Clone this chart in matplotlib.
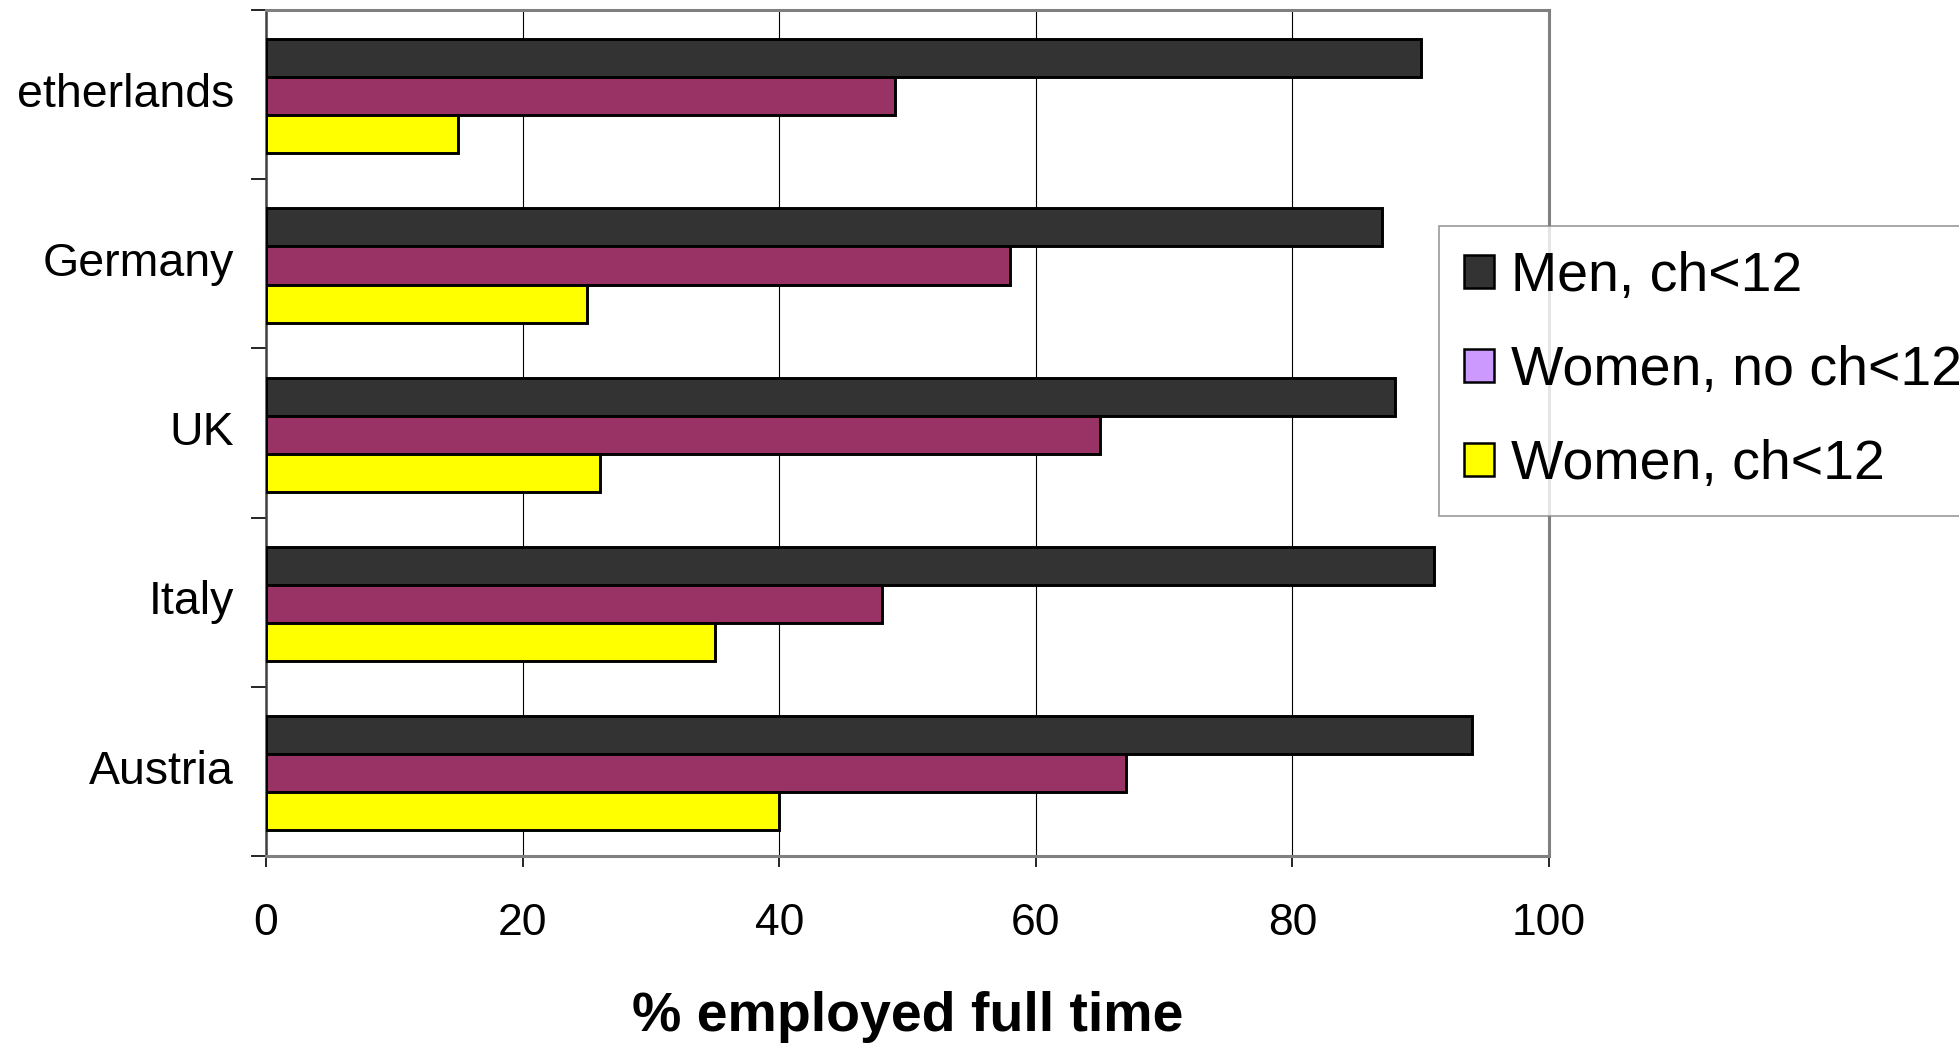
import numpy as np
import matplotlib
matplotlib.use("Agg")
import matplotlib.pyplot as plt
import matplotlib.transforms as mtransforms
from matplotlib.patches import Patch

plt.rcParams['font.family'] = ['Liberation Sans', 'DejaVu Sans']

# Full-time employment share by country and group
countries = ["etherlands", "Germany", "UK", "Italy", "Austria"]
men_ch = [90, 87, 88, 91, 94]
women_no_ch = [49, 58, 65, 48, 67]
women_ch = [15, 25, 26, 35, 40]

series_labels = ["Men, ch<12", "Women, no ch<12", "Women, ch<12"]
bar_colors = ["#333333", "#993366", "#FFFF00"]
key_colors = ["#333333", "#CC99FF", "#FFFF00"]

fig = plt.figure(figsize=(19.59, 10.43), dpi=100)
ax = fig.add_axes([0.1358, 0.1793, 0.6549, 0.8111])

y = np.arange(len(countries))
h = 0.225
for k, vals in enumerate([men_ch, women_no_ch, women_ch]):
    ax.barh(y + (k - 1) * h + 0.01, vals, height=h, color=bar_colors[k],
            edgecolor="black", linewidth=2.1, zorder=3)

ax.set_xlim(0, 100)
ax.set_ylim(len(countries) - 0.5, -0.5)

ax.set_xticks(np.arange(0, 101, 20))
ax.tick_params(axis="x", labelsize=32, length=8, width=1.2, pad=26)
ax.xaxis.grid(True, color="black", linewidth=0.8, zorder=0)

# ticks at the group boundaries, names centred between them
ax.set_yticks(np.arange(-0.5, len(countries), 1.0))
ax.set_yticklabels([])
ax.set_yticks(y, minor=True)
ax.set_yticklabels(countries, minor=True)
ax.tick_params(axis="y", which="major", length=11, width=1.2, direction="out")
ax.tick_params(axis="y", which="minor", length=0, labelsize=33.5, pad=23)
lift = mtransforms.ScaledTranslation(0, 3.5 / 72, fig.dpi_scale_trans)
for lbl in ax.get_yticklabels(minor=True):
    lbl.set_transform(lbl.get_transform() + lift)

for side in ["top", "right", "bottom"]:
    ax.spines[side].set_color("#808080")
    ax.spines[side].set_linewidth(2.2)
ax.spines["left"].set_color("#404040")
ax.spines["left"].set_linewidth(1.8)

ax.set_xlabel("% employed full time", fontsize=40, fontweight="bold")
ax.xaxis.set_label_coords(0.5, -0.159)

handles = [Patch(facecolor=c, edgecolor="black", linewidth=1.8) for c in key_colors]
leg = fig.legend(handles, series_labels, loc="upper left",
                 bbox_to_anchor=(0.7346, 0.7833), fontsize=40,
                 frameon=True, fancybox=False, shadow=False,
                 handlelength=0.54, handleheight=0.54, handletextpad=0.3,
                 labelspacing=0.76, borderpad=0.45, borderaxespad=0)
leg.get_frame().set_edgecolor("#808080")
leg.get_frame().set_linewidth(1.2)

fig.savefig("out.png", dpi=100)
